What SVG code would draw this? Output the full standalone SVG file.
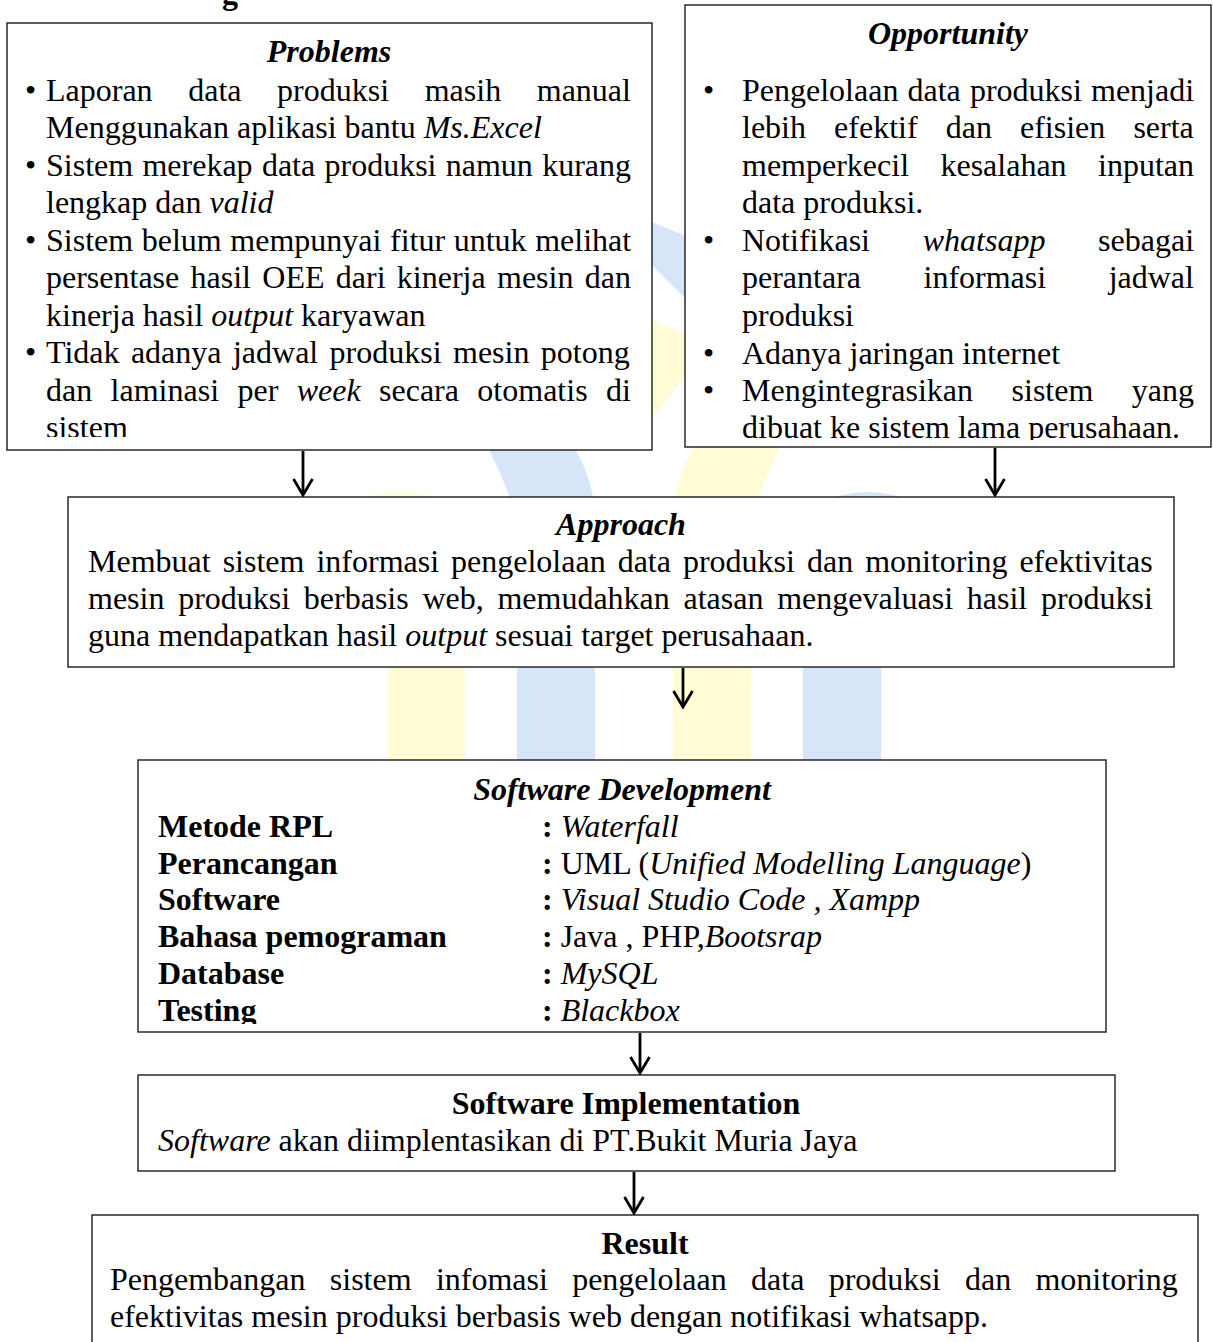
<svg xmlns="http://www.w3.org/2000/svg" width="1213" height="1342" viewBox="0 0 1213 1342">
<defs>
<style>
text{font-family:"Liberation Serif","Times New Roman",serif;font-size:32px;fill:#000}
.t{font-weight:bold;font-style:italic;text-anchor:middle}
.tb{font-weight:bold;text-anchor:middle}
.b{font-weight:bold}
.i{font-style:italic}
.box{fill:#fff;stroke:#1a1a1a;stroke-width:1.4}
.wy{fill:#FFFCD6}
.wb{fill:#D7E5F9}
.conn{stroke:#000;stroke-width:2.8;fill:none;marker-end:url(#arr)}
</style>
<marker id="arr" viewBox="-18 -12 20 24" refX="0" refY="0" markerWidth="20" markerHeight="24" markerUnits="userSpaceOnUse" orient="auto">
<path d="M-16,-9.5 L0,0 L-16,9.5" fill="none" stroke="#000" stroke-width="2.8"/>
</marker>
<clipPath id="cp1"><rect x="7" y="23" width="645" height="414"/></clipPath>
<clipPath id="cp2"><rect x="685" y="5" width="526" height="435"/></clipPath>
<clipPath id="cp3"><rect x="138" y="760" width="968" height="264"/></clipPath>
</defs>

<g id="watermark">
<ellipse class="wy" cx="400" cy="525" rx="62" ry="33"/>
<rect class="wy" x="388" y="520" width="77" height="240"/>
<ellipse class="wb" cx="868" cy="525" rx="62" ry="33"/>
<rect class="wb" x="803" y="520" width="78" height="240"/>
<path class="wb" d="M517,760 L595,760 L595,520 Q595,480 570,440 L540,400 L460,400 Q500,460 517,520 Z"/>
<path class="wy" d="M751,760 L673,760 L673,520 Q673,480 698,440 L728,400 L808,400 Q768,460 751,520 Z"/>
<polygon class="wb" points="640,217 700,242 700,313 640,253"/>
<polygon class="wy" points="640,315 700,339 700,359 640,432"/>
</g>

<text class="b" x="222" y="4">g</text>

<g id="problems">
<rect class="box" x="7" y="23" width="645" height="427"/>
<text class="t" x="329" y="62">Problems</text>
<g clip-path="url(#cp1)">
<text x="25" y="101">•</text>
<text x="46" y="101" style="word-spacing:27.6px">Laporan data produksi masih manual</text>
<text x="46" y="138">Menggunakan aplikasi bantu <tspan class="i">Ms.Excel</tspan></text>
<text x="25" y="176">•</text>
<text x="46" y="176" style="word-spacing:1.3px">Sistem merekap data produksi namun kurang</text>
<text x="46" y="213">lengkap dan <tspan class="i">valid</tspan></text>
<text x="25" y="251">•</text>
<text x="46" y="251" style="word-spacing:0.6px">Sistem belum mempunyai fitur untuk melihat</text>
<text x="46" y="288" style="word-spacing:3.3px">persentase hasil OEE dari kinerja mesin dan</text>
<text x="46" y="326">kinerja hasil <tspan class="i">output</tspan> karyawan</text>
<text x="25" y="363">•</text>
<text x="46" y="363" style="word-spacing:3.4px">Tidak adanya jadwal produksi mesin potong</text>
<text x="46" y="401" style="word-spacing:10.4px">dan laminasi per <tspan class="i">week</tspan> secara otomatis di</text>
<text x="46" y="438">sistem</text>
</g>
</g>

<g id="opportunity">
<rect class="box" x="685" y="5" width="526" height="442"/>
<text class="t" x="948" y="44">Opportunity</text>
<g clip-path="url(#cp2)">
<text x="703" y="101">•</text>
<text x="742" y="101" style="word-spacing:1.1px">Pengelolaan data produksi menjadi</text>
<text x="742" y="138" style="word-spacing:20.1px">lebih efektif dan efisien serta</text>
<text x="742" y="176" style="word-spacing:23.4px">memperkecil kesalahan inputan</text>
<text x="742" y="213">data produksi.</text>
<text x="703" y="251">•</text>
<text x="742" y="251" style="word-spacing:44.7px">Notifikasi <tspan class="i">whatsapp</tspan> sebagai</text>
<text x="742" y="288" style="word-spacing:54.5px">perantara informasi jadwal</text>
<text x="742" y="326">produksi</text>
<text x="703" y="364">•</text>
<text x="742" y="364">Adanya jaringan internet</text>
<text x="703" y="401">•</text>
<text x="742" y="401" style="word-spacing:30.5px">Mengintegrasikan sistem yang</text>
<text x="742" y="438">dibuat ke sistem lama perusahaan.</text>
</g>
</g>

<g id="approach">
<rect class="box" x="68" y="497" width="1106" height="170"/>
<text class="t" x="621" y="535">Approach</text>
<text x="88" y="572" style="word-spacing:4px">Membuat sistem informasi pengelolaan data produksi dan monitoring efektivitas</text>
<text x="88" y="609" style="word-spacing:5.7px">mesin produksi berbasis web, memudahkan atasan mengevaluasi hasil produksi</text>
<text x="88" y="646">guna mendapatkan hasil <tspan class="i">output</tspan> sesuai target perusahaan.</text>
</g>

<g id="software-development">
<rect class="box" x="138" y="760" width="968" height="272"/>
<text class="t" x="622" y="800">Software Development</text>
<g clip-path="url(#cp3)">
<text class="b" x="158" y="837">Metode RPL</text>
<text class="b" x="158" y="874">Perancangan</text>
<text class="b" x="158" y="910">Software</text>
<text class="b" x="158" y="947">Bahasa pemograman</text>
<text class="b" x="158" y="984">Database</text>
<text class="b" x="158" y="1021">Testing</text>
<text x="542" y="837"><tspan class="b">:</tspan> <tspan class="i">Waterfall</tspan></text>
<text x="542" y="874"><tspan class="b">:</tspan> UML (<tspan class="i">Unified Modelling Language</tspan>)</text>
<text x="542" y="910"><tspan class="b">:</tspan> <tspan class="i">Visual Studio Code , Xampp</tspan></text>
<text x="542" y="947"><tspan class="b">:</tspan> Java , PHP,<tspan class="i">Bootsrap</tspan></text>
<text x="542" y="984"><tspan class="b">:</tspan> <tspan class="i">MySQL</tspan></text>
<text x="542" y="1021"><tspan class="b">:</tspan> <tspan class="i">Blackbox</tspan></text>
</g>
</g>

<g id="software-implementation">
<rect class="box" x="138" y="1075" width="977" height="96"/>
<text class="tb" x="626" y="1114">Software Implementation</text>
<text x="158" y="1151"><tspan class="i">Software</tspan> akan diimplentasikan di PT.Bukit Muria Jaya</text>
</g>

<g id="result">
<rect class="box" x="92" y="1215" width="1106" height="170"/>
<text class="tb" x="645" y="1254">Result</text>
<text x="110" y="1290" style="word-spacing:16.3px">Pengembangan sistem infomasi pengelolaan data produksi dan monitoring</text>
<text x="110" y="1327">efektivitas mesin produksi berbasis web dengan notifikasi whatsapp.</text>
</g>

<g id="connectors">
<line class="conn" x1="303" y1="451" x2="303" y2="495"/>
<line class="conn" x1="995" y1="448" x2="995" y2="495"/>
<line class="conn" x1="683" y1="668" x2="683" y2="707"/>
<line class="conn" x1="640" y1="1033" x2="640" y2="1073"/>
<line class="conn" x1="634" y1="1172" x2="634" y2="1213"/>
</g>
</svg>
